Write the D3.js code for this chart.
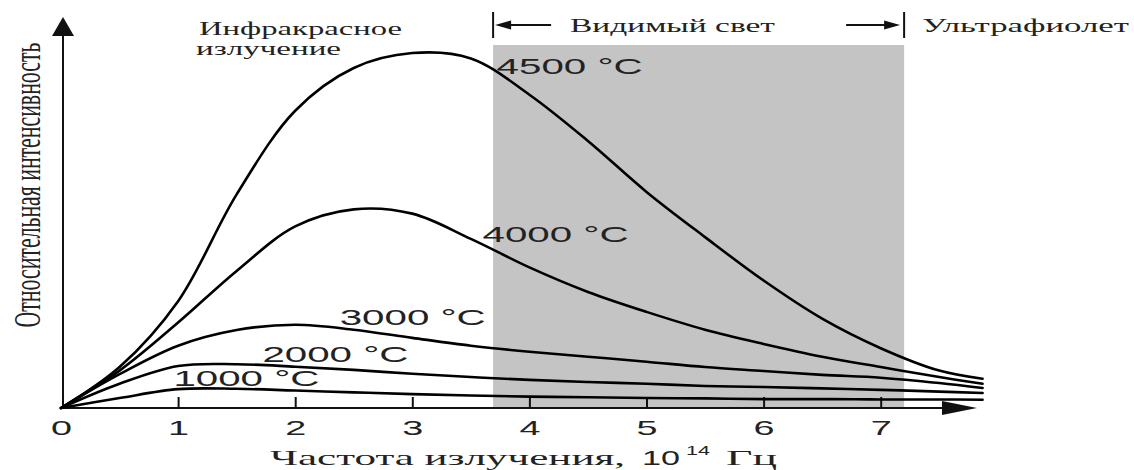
<!DOCTYPE html>
<head>
    <style>
        body { margin: 0; background: #fff; }
        .curve { fill: none; stroke: #000; stroke-width: 2.6; stroke-linejoin: round; stroke-linecap: round; }
        .band { fill: #c4c4c4; }
        .axisline { stroke: #111; stroke-width: 2; }
        .serif { font-family: 'Liberation Serif', 'DejaVu Serif', serif; fill: #222; }
        .sans { font-family: 'Liberation Sans', Arial, sans-serif; fill: #222; }
    </style>
</head>
<body>
    <svg class="main"></svg>
</body>
<script src="https://d3js.org/d3.v7.min.js"></script>
<script>
    var width = 1134;
    var height = 470;

    // frequency, 10^14 Hz
    var freq = [0, 0.5, 1, 1.5, 2, 2.5, 3, 3.5, 4, 4.5, 5, 5.5, 6, 6.5, 7, 7.5, 7.87];

    // relative intensity (4500 peak = 100)
    var i4500 = [0, 11.5, 30, 60, 83.5, 95.5, 99.7, 98.2, 88, 75, 60.7, 48, 35.8, 25.1, 16.8, 10.5, 8.2];
    var i4000 = [0, 10.5, 24, 38.5, 51, 55.8, 54.6, 47.5, 39.5, 32.6, 27, 22, 18, 14.4, 11.5, 8.7, 6.8];
    var i3000 = [0, 9.5, 17.5, 21.9, 23.4, 22, 19.7, 17.5, 15.8, 14.4, 13, 11.5, 10.4, 9.3, 8.5, 7, 5.6];
    var i2000 = [0, 6.8, 11.8, 12.3, 11.6, 10.7, 9.6, 8.7, 7.9, 7.3, 6.8, 6.2, 5.9, 5.5, 5.1, 4.6, 4.2];
    var i1000 = [0, 2.8, 5.3, 5.4, 4.9, 4.4, 3.9, 3.5, 3.2, 3.0, 2.8, 2.7, 2.5, 2.5, 2.4, 2.4, 2.3];

    var temps = ['4500', '4000', '3000', '2000', '1000'];
    var series = [i4500, i4000, i3000, i2000, i1000];

    var xTicks = [0, 1, 2, 3, 4, 5, 6, 7];
    // visible light band, 10^14 Hz
    var visible = [3.69, 7.2];

    // where each temperature label sits: [freq, intensity] of its left baseline
    var labelAt = [[3.72, 93.8], [3.60, 46.6], [2.38, 23.3], [1.72, 12.9], [0.96, 6.2]];

    var svg = d3.select('svg')
        .attr('width', width)
        .attr('height', height);

    var x = d3.scaleLinear().domain([0, 8]).range([61, 61 + 8 * 117.1]);
    var y = d3.scaleLinear().domain([0, 100]).range([408, 52]);

    // helper for the stretched-looking text of the original
    function label(g, str, px, py, cls, size, len, anchor) {
        return g.append('text')
            .attr('class', cls)
            .attr('x', px)
            .attr('y', py)
            .attr('font-size', size)
            .attr('text-anchor', anchor || 'start')
            .attr('textLength', len)
            .attr('lengthAdjust', 'spacingAndGlyphs')
            .text(str);
    }

    // gray visible band
    svg.append('rect')
        .attr('class', 'band')
        .attr('x', x(visible[0]))
        .attr('y', 45)
        .attr('width', x(visible[1]) - x(visible[0]))
        .attr('height', y(0) - 45);

    // axes
    var axisG = svg.append('g');
    axisG.append('line').attr('class', 'axisline')
        .attr('x1', x(0)).attr('x2', 945).attr('y1', y(0)).attr('y2', y(0));
    axisG.append('path')
        .attr('d', 'M977,' + y(0) + 'L942,' + (y(0) - 7) + 'L942,' + (y(0) + 7) + 'Z')
        .attr('fill', '#111');
    axisG.append('line').attr('class', 'axisline')
        .attr('x1', 63).attr('x2', 63).attr('y1', y(0)).attr('y2', 34);
    axisG.append('path')
        .attr('d', 'M63,17L52,36L74,36Z')
        .attr('fill', '#111');

    var xAxis = svg.append('g')
        .attr('transform', 'translate(0,' + y(0) + ')')
        .call(d3.axisBottom(x).tickValues(xTicks).tickSize(-11).tickPadding(12).tickFormat(d3.format('d')));
    xAxis.select('.domain').remove();
    xAxis.selectAll('.tick line')
        .attr('stroke', '#111')
        .attr('stroke-width', 2)
        .filter(function (d) { return d === 0; }).remove();
    xAxis.selectAll('.tick text')
        .attr('class', 'sans')
        .attr('font-size', 21)
        .attr('fill', '#222')
        .attr('textLength', 21)
        .attr('lengthAdjust', 'spacingAndGlyphs');

    // curves
    var line = d3.line()
        .x(function (d, i) { return x(freq[i]); })
        .y(function (d) { return y(d); })
        .curve(d3.curveCatmullRom.alpha(0.5));

    svg.append('g')
        .selectAll('path')
        .data(series)
        .join('path')
        .attr('class', 'curve')
        .attr('d', line);

    // temperature labels
    var lg = svg.append('g');
    temps.forEach(function (t, i) {
        label(lg, t + ' \u00B0C', x(labelAt[i][0]), y(labelAt[i][1]), 'sans', 22, 146);
    });

    // header
    var hg = svg.append('g');
    var xa = x(visible[0]), xb = x(visible[1]);
    hg.append('line').attr('class', 'axisline').attr('stroke-width', 1.5)
        .attr('x1', xa).attr('x2', xa).attr('y1', 12).attr('y2', 38);
    hg.append('line').attr('class', 'axisline').attr('stroke-width', 1.5)
        .attr('x1', xb).attr('x2', xb).attr('y1', 12).attr('y2', 38);
    hg.append('line').attr('class', 'axisline').attr('stroke-width', 1.5)
        .attr('x1', xa + 12).attr('x2', xa + 58).attr('y1', 25).attr('y2', 25);
    hg.append('path').attr('fill', '#111')
        .attr('d', 'M' + (xa + 2) + ',25L' + (xa + 18) + ',20.5L' + (xa + 18) + ',29.5Z');
    hg.append('line').attr('class', 'axisline').attr('stroke-width', 1.5)
        .attr('x1', xb - 58).attr('x2', xb - 12).attr('y1', 25).attr('y2', 25);
    hg.append('path').attr('fill', '#111')
        .attr('d', 'M' + (xb - 4) + ',25L' + (xb - 20) + ',20.5L' + (xb - 20) + ',29.5Z');

    label(hg, 'Видимый свет', 570, 32, 'serif', 18, 205);
    label(hg, 'Ультрафиолет', 922, 32, 'serif', 18, 207);
    label(hg, 'Инфракрасное', 199, 35, 'serif', 18, 203);
    label(hg, 'излучение', 196, 55, 'serif', 18, 145);

    // y title: tall, squeezed glyphs, so scale it along its length instead of textLength
    var yTitle = svg.append('text')
        .attr('class', 'serif')
        .attr('font-size', 38)
        .attr('text-anchor', 'middle')
        .text('Относительная интенсивность');
    var natural = yTitle.node().getComputedTextLength();
    yTitle.attr('transform', 'translate(40,185) rotate(-90) scale(' + (285 / natural) + ',1)');

    label(svg, 'Частота излучения,', 270, 465, 'serif', 21, 355);
    label(svg, '10', 642, 465, 'sans', 21, 38);
    label(svg, '14', 686, 455, 'sans', 13, 24);
    label(svg, 'Гц', 726, 465, 'serif', 21, 51);
</script>
